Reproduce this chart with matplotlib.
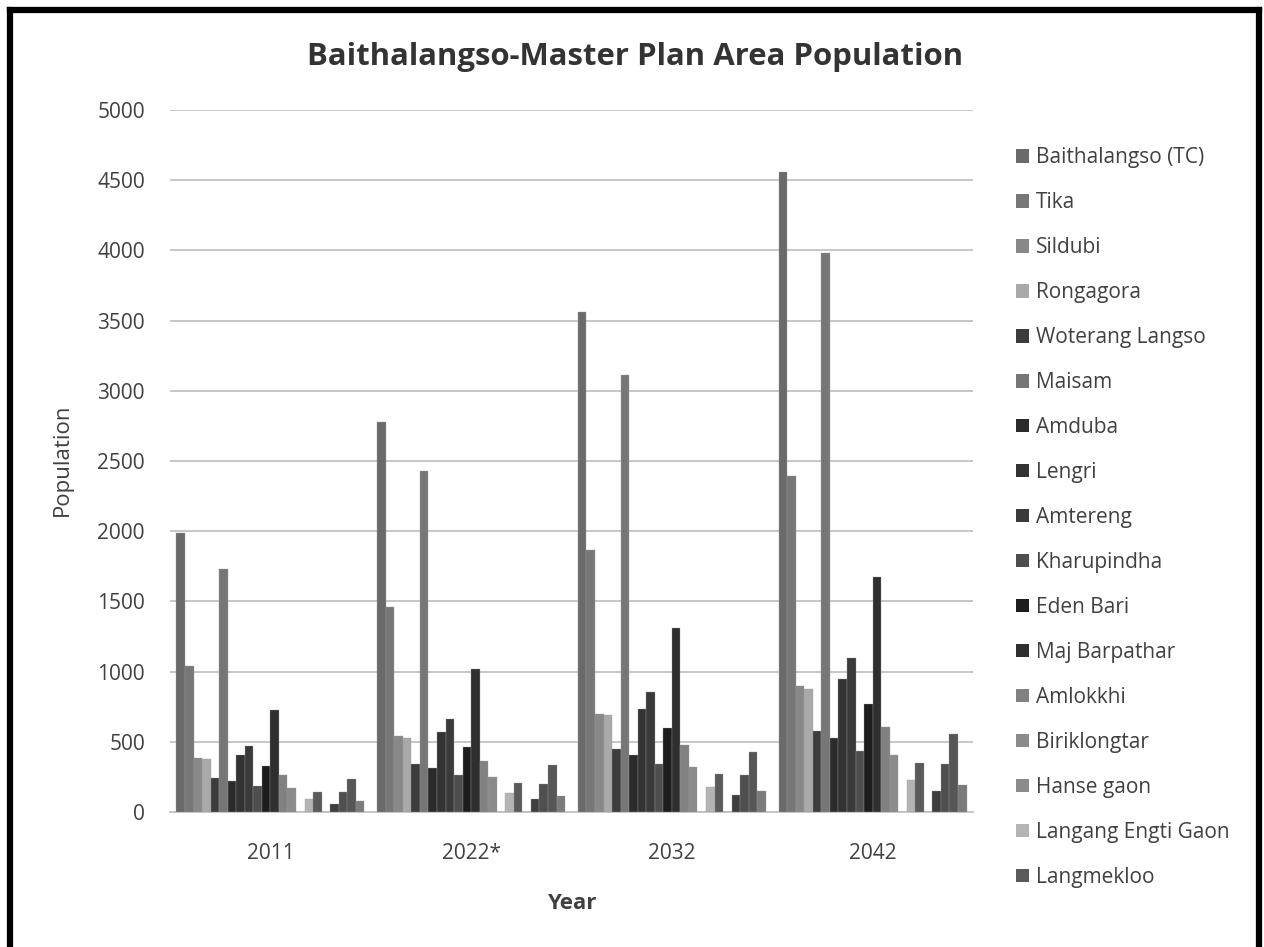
import matplotlib
matplotlib.use("Agg")
import matplotlib.pyplot as plt
from matplotlib.patches import Patch
from matplotlib.lines import Line2D
import numpy as np

years = ["2011", "2022*", "2032", "2042"]
villages = ["Baithalangso (TC)", "Tika", "Sildubi", "Rongagora", "Woterang Langso",
            "Maisam", "Amduba", "Lengri", "Amtereng", "Kharupindha", "Eden Bari",
            "Maj Barpathar", "Amlokkhi", "Biriklongtar", "Hanse gaon",
            "Langang Engti Gaon", "Langmekloo",
            "Village 18", "Village 19", "Village 20", "Village 21", "Village 22"]
pop_2011 = [1985, 1040, 385, 380, 245, 1733, 221, 406, 470, 188, 328, 724, 261, 173, 0, 90, 145, 0, 59, 140, 235, 78]
pop_2022 = [2780, 1458, 541, 529, 344, 2429, 316, 572, 665, 264, 465, 1021, 366, 247, 0, 133, 209, 0, 90, 202, 332, 114]
pop_2032 = [3560, 1865, 700, 688, 447, 3111, 409, 736, 856, 344, 599, 1308, 476, 320, 0, 175, 272, 0, 120, 267, 430, 149]
pop_2042 = [4560, 2392, 895, 877, 574, 3981, 525, 944, 1096, 435, 769, 1676, 608, 407, 0, 225, 346, 0, 151, 340, 552, 194]
legend_count = 17

colors = ["#6a6a6a", "#777777", "#888888", "#a9a9a9", "#3c3c3c", "#767676",
          "#2b2b2b", "#333333", "#3a3a3a", "#4e4e4e", "#1d1d1d", "#2f2f2f",
          "#818181", "#8b8b8b", "#8b8b8b", "#b4b4b4", "#5a5a5a",
          "#6a6a6a", "#3e3e3e", "#4f4f4f", "#565656", "#7b7b7b"]

FONT = ["Open Sans", "DejaVu Sans"]
plt.rcParams["font.family"] = FONT
TXT = "#404040"

W, H = 1264, 947
fig = plt.figure(figsize=(W / 100, H / 100), dpi=100)
ax = fig.add_axes([170 / W, 1 - 812 / H, (973 - 170) / W, (812 - 110) / H])

values = np.array([pop_2011, pop_2022, pop_2032, pop_2042]).T
n = len(villages)
x = np.arange(len(years))
group_w = 0.936
bw = group_w / n
for i in range(n):
    ax.bar(x - group_w / 2 + bw * (i + 0.5), values[i], width=bw,
           color=colors[i], edgecolor="#9a9a9a", linewidth=0.25, zorder=3)

ax.set_xlim(-0.5, len(years) - 0.5)
ax.set_ylim(0, 5000)
ax.set_yticks(np.arange(0, 5001, 500))
ax.set_xticks(x)
ax.set_xticklabels(years)
ax.tick_params(axis="both", length=0, labelsize=15, colors=TXT)
ax.tick_params(axis="y", pad=18)
ax.tick_params(axis="x", pad=22)
ax.grid(axis="y", color="#c6c6c6", linewidth=1.4, zorder=0)
for s in ["top", "right", "left"]:
    ax.spines[s].set_visible(False)
ax.spines["bottom"].set_color("#c6c6c6")
ax.spines["bottom"].set_linewidth(1.4)

fig.text(62 / W, 1 - 460 / H, "Population", rotation=90, ha="center", va="center",
         fontsize=16, color=TXT)
fig.text(572 / W, 1 - 903 / H, "Year", ha="center", va="center",
         fontsize=16, fontweight="bold", color=TXT)
fig.text(0.5 * (307 + 963) / W, 1 - 57 / H, "Baithalangso-Master Plan Area Population",
         ha="center", va="center", fontsize=22.4, fontweight="bold", color="#333333")

handles = [Patch(facecolor=colors[i], edgecolor="none") for i in range(legend_count)]
leg = fig.legend(handles, villages[:legend_count], loc="upper left",
                 bbox_to_anchor=(1008 / W, 1 - 139 / H), frameon=False,
                 fontsize=15, handlelength=0.62, handleheight=0.62,
                 handletextpad=0.3, labelspacing=1.15, borderaxespad=0)
for t in leg.get_texts():
    t.set_color(TXT)

# black frame around the picture (no bottom edge, as in the source)
lw = 4.5
fig.add_artist(Line2D([10 / W, 10 / W], [0, 1 - 10.5 / H], color="black", lw=lw, transform=fig.transFigure))
fig.add_artist(Line2D([10 / W, 1259 / W], [1 - 10.5 / H, 1 - 10.5 / H], color="black", lw=lw, transform=fig.transFigure))
fig.add_artist(Line2D([1259 / W, 1259 / W], [0, 1 - 10.5 / H], color="black", lw=lw, transform=fig.transFigure))

fig.savefig("out.png", dpi=100)
